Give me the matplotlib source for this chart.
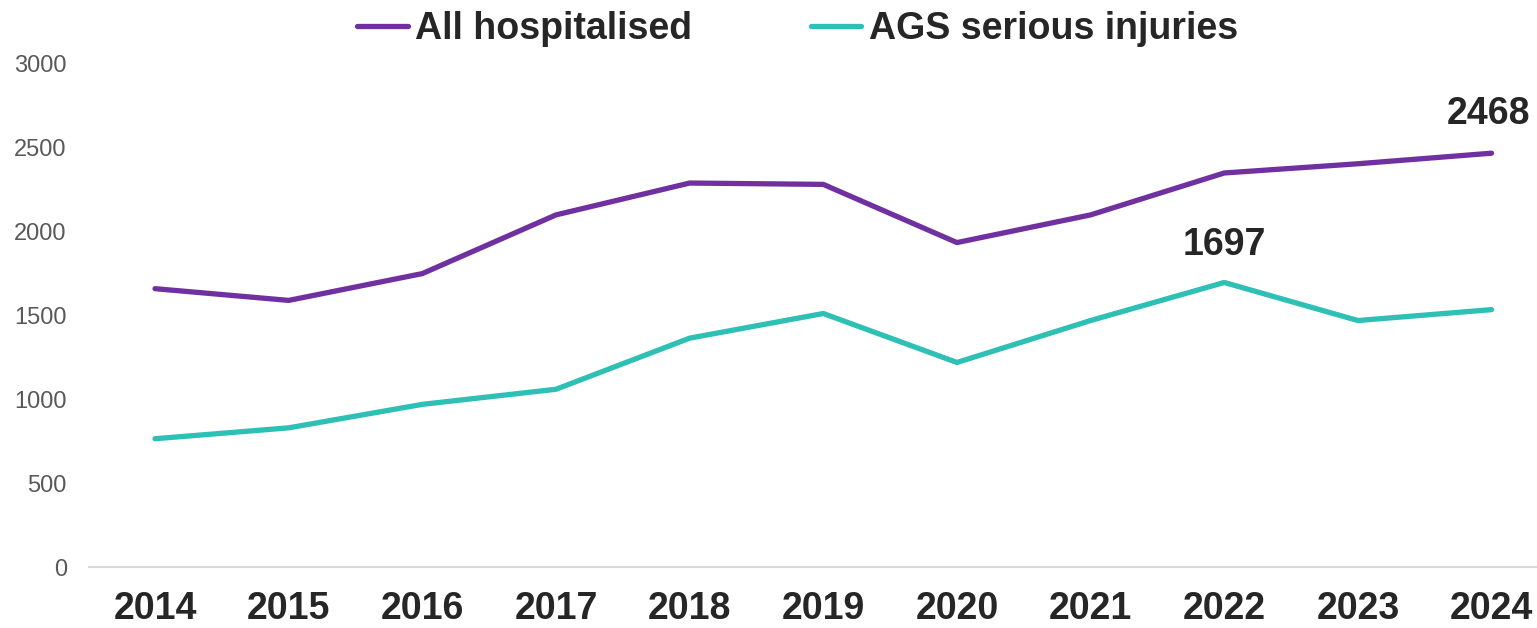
import matplotlib
matplotlib.use("Agg")
import matplotlib.pyplot as plt
from matplotlib.lines import Line2D

years = ["2014", "2015", "2016", "2017", "2018", "2019", "2020", "2021", "2022", "2023", "2024"]
all_hospitalised = [1660, 1590, 1750, 2100, 2290, 2282, 1935, 2100, 2350, 2405, 2468]
ags_serious = [765, 830, 970, 1060, 1365, 1512, 1220, 1470, 1697, 1470, 1535]
yticks = [0, 500, 1000, 1500, 2000, 2500, 3000]

purple = "#7030A0"
teal = "#2EBFB5"
dark = "#262626"

plt.rcParams['font.family'] = ['Liberation Sans', 'DejaVu Sans']

fig = plt.figure(figsize=(15.37, 6.28), dpi=100)
ax = fig.add_axes([89 / 1537, (628 - 567) / 628, 1 - 89 / 1537, (567 - 64) / 628])

x = list(range(len(years)))
ax.plot(x, all_hospitalised, color=purple, lw=3.8, solid_capstyle='round', solid_joinstyle='round')
ax.plot(x, ags_serious, color=teal, lw=3.8, solid_capstyle='round', solid_joinstyle='round')

ax.set_xlim(-0.494, 10.34)
ax.set_ylim(0, 3000)
ax.set_yticks(yticks)
ax.set_yticklabels([str(v) for v in yticks], fontsize=17, color="#595959")
ax.set_xticks(x)
ax.set_xticklabels(years, fontsize=27, fontweight='bold', color=dark)
ax.tick_params(axis='y', length=0, pad=16)
ax.tick_params(axis='x', length=0, pad=17)

for s in ['top', 'right', 'left']:
    ax.spines[s].set_visible(False)
ax.spines['bottom'].set_color("#D9D9D9")
ax.spines['bottom'].set_linewidth(1.5)

# data labels
ax.annotate(str(all_hospitalised[-1]), (x[-1], all_hospitalised[-1]), xytext=(-2, 15),
            textcoords='offset points', ha='center', va='bottom', fontsize=27,
            fontweight='bold', color=dark, annotation_clip=False)
ax.annotate(str(ags_serious[8]), (x[8], ags_serious[8]), xytext=(0, 14),
            textcoords='offset points', ha='center', va='bottom', fontsize=27,
            fontweight='bold', color=dark)

handles = [Line2D([0], [0], color=purple, lw=3.8, solid_capstyle='round'),
           Line2D([0], [0], color=teal, lw=3.8, solid_capstyle='round')]
leg = fig.legend(handles, ["All hospitalised", "AGS serious injuries"], loc='center',
                 bbox_to_anchor=(0.5189, 1 - 29 / 628), ncol=2, frameon=False,
                 prop={'size': 27, 'weight': 'bold'}, handlelength=1.35,
                 handletextpad=0.2, columnspacing=3.15, borderaxespad=0)
for t in leg.get_texts():
    t.set_color(dark)

fig.savefig("out.png", dpi=100)
